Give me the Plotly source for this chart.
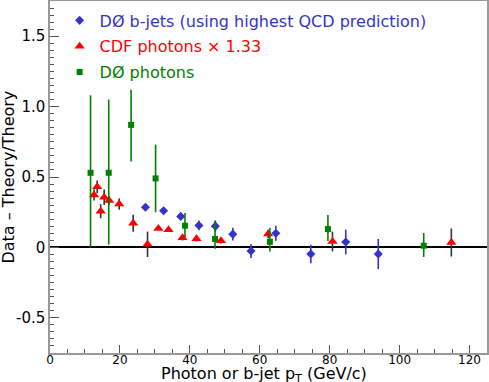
import plotly.graph_objects as go

# D0 b-jets
bjet_x = [27.3, 32.5, 37.4, 42.6, 47.3, 52.3, 57.5, 64.6, 74.6, 84.6, 93.9]
bjet_y = [0.285, 0.26, 0.22, 0.156, 0.151, 0.094, -0.026, 0.10, -0.047, 0.038, -0.047]
bjet_err = [0.015, 0.015, 0.025, 0.035, 0.04, 0.045, 0.05, 0.053, 0.065, 0.088, 0.107]

# CDF photons x 1.33
cdf_x = [12.6, 13.5, 14.5, 15.5, 16.9, 19.8, 23.8, 27.9, 31.0, 33.9, 37.9, 41.9, 48.9, 62.4, 80.8, 114.8]
cdf_y = [0.373, 0.43, 0.257, 0.356, 0.333, 0.308, 0.172, 0.022, 0.134, 0.125, 0.069, 0.062, 0.048, 0.095, 0.042, 0.035]
cdf_err = [0.04, 0.045, 0.05, 0.055, 0.03, 0.04, 0.06, 0.09, 0.01, 0.01, 0.02, 0.02, 0.02, 0.03, 0.07, 0.1]

# D0 photons
d0_x = [11.6, 16.8, 23.2, 30.2, 38.6, 47.2, 62.9, 79.5, 106.9]
d0_y = [0.53, 0.53, 0.87, 0.49, 0.154, 0.06, 0.04, 0.13, 0.012]
d0_up = [0.55, 0.52, 0.25, 0.24, 0.09, 0.13, 0.10, 0.10, 0.09]
d0_dn = [0.53, 0.51, 0.26, 0.24, 0.08, 0.07, 0.07, 0.085, 0.08]

BLUE = "#3333cc"
RED = "#ff0000"
GREEN = "#008000"
FONT = "DejaVu Sans"

fig = go.Figure()

fig.add_trace(go.Scatter(
    x=bjet_x, y=bjet_y, mode="markers",
    name=f"<span style='color:{BLUE}'>DØ b-jets (using highest QCD prediction)</span>",
    legendgroup="a",
    marker=dict(symbol="diamond", size=7, color=BLUE),
    error_y=dict(type="data", array=bjet_err, color=BLUE, thickness=1.6, width=0),
))
fig.add_trace(go.Scatter(
    x=cdf_x, y=cdf_y, mode="markers",
    name=f"<span style='color:{RED}'>CDF photons × 1.33</span>",
    legendgroup="b",
    marker=dict(symbol="triangle-up", size=9, color=RED),
    error_y=dict(type="data", array=cdf_err, color="#333333", thickness=1.6, width=0),
))
fig.add_trace(go.Scatter(
    x=d0_x, y=d0_y, mode="markers",
    name=f"<span style='color:{GREEN}'>DØ photons</span>",
    legendgroup="c",
    marker=dict(symbol="square", size=6, color=GREEN),
    error_y=dict(type="data", symmetric=False, array=d0_up, arrayminus=d0_dn,
                 color=GREEN, thickness=1.6, width=0),
))

fig.update_layout(
    width=489, height=382,
    margin=dict(l=50, r=2, t=1, b=29, autoexpand=False),
    paper_bgcolor="white", plot_bgcolor="white",
    font=dict(family=FONT, color="black"),
    showlegend=True,
    legend=dict(x=0.022, y=0.993, xanchor="left", yanchor="top",
                bgcolor="rgba(0,0,0,0)", font=dict(size=16, family=FONT),
                tracegroupgap=2, itemwidth=30),
    annotations=[
        dict(text="Photon or b-jet p<sub>T</sub> (GeV/c)", xref="paper", yref="paper",
             x=0.49, y=-0.062, xanchor="center", yanchor="middle", showarrow=False,
             font=dict(size=16, family=FONT)),
        dict(text="Data – Theory/Theory", xref="paper", yref="paper",
             x=-0.097, y=0.5, xanchor="center", yanchor="middle", showarrow=False,
             textangle=-90, font=dict(size=16, family=FONT)),
    ],
)

fig.update_xaxes(
    range=[0, 125], dtick=20, tick0=0, automargin=False,
    ticks="inside", ticklen=8, tickcolor="#555", tickwidth=1,
    minor=dict(dtick=5, ticks="inside", ticklen=4, tickcolor="#555"),
    showgrid=False, zeroline=False,
    showline=True, linecolor="#999", linewidth=1.5, mirror=True,
    tickfont=dict(size=12, family=FONT), ticklabelstandoff=-5,
)
fig.update_yaxes(
    range=[-0.75, 1.75], tickvals=[-0.5, 0, 0.5, 1.0, 1.5],
    ticktext=["-0.5", "0", "0.5", "1.0", "1.5"], automargin=False,
    ticks="inside", ticklen=9, tickcolor="#555", tickwidth=1,
    minor=dict(dtick=0.05, ticks="inside", ticklen=4, tickcolor="#555"),
    showgrid=False,
    zeroline=True, zerolinecolor="black", zerolinewidth=1.5,
    showline=True, linecolor="#999", linewidth=1.5, mirror=True,
    tickfont=dict(size=15, family=FONT),
)

fig.write_html(
    "out.html",
    config={"displayModeBar": False},
    post_script="document.body.style.margin='0px';document.body.style.overflow='hidden';",
)
